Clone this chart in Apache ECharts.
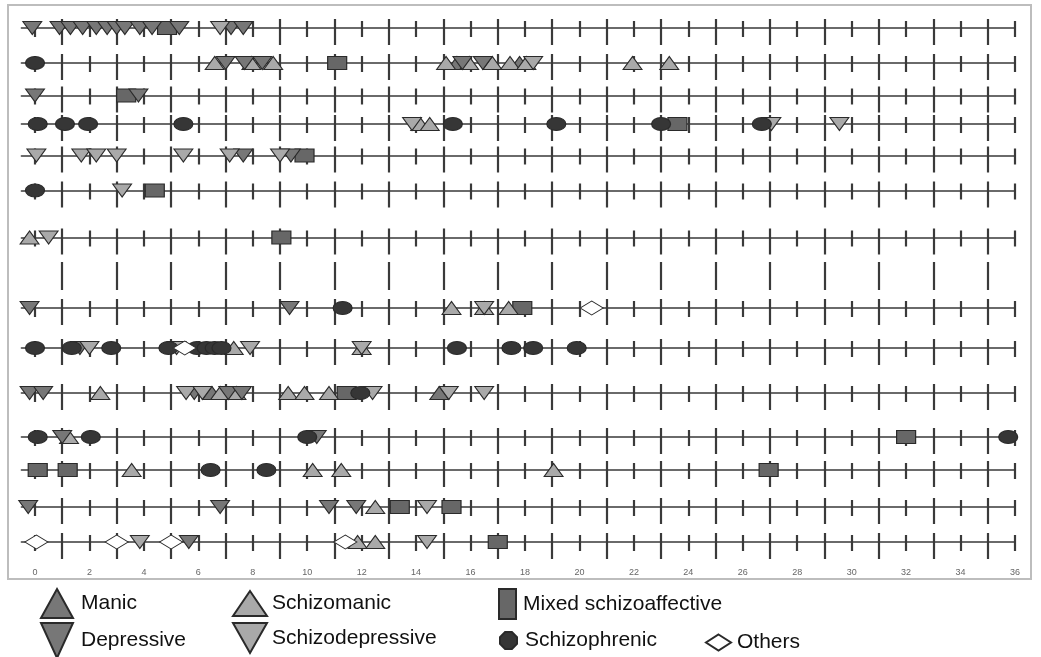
<!DOCTYPE html>
<html><head><meta charset="utf-8">
<script src="https://cdn.jsdelivr.net/npm/echarts@6/dist/echarts.min.js"></script>
<style>html,body{margin:0;padding:0;background:#fff}#c{width:1041px;height:657px}</style>
</head><body><div id="c"></div>
<script>
// ---------------- data ----------------
const categories = ['Manic','Schizomanic','Mixed schizoaffective','Depressive','Schizodepressive','Schizophrenic','Others'];
const xLabels = [0,2,4,6,8,10,12,14,16,18,20,22,24,26,28,30,32,34,36];
const majorTicks = [1,3,5,7,9,11,13,15,17,19,21,23,25,27,29,31,33,35];
const minorTicks = [0,2,4,6,8,10,12,14,16,18,20,22,24,26,28,30,32,34,36];
const patients = [1,2,3,4,5,6,7,8,9,10,11,12,13,14];
// episodes: [time, patient row index]
const manic = [[15.5,1],[17.8,1],[6.5,9],[14.85,9]];
const schizomanic = [[6.6,1],[7.95,1],[8.75,1],[15.1,1],[15.95,1],[16.8,1],[17.45,1],[18.05,1],[21.95,1],[23.3,1],
  [14.15,3],[14.5,3],[-0.2,6],[15.3,7],[16.5,7],[17.4,7],[7.3,8],[12.0,8],
  [2.4,9],[6.8,9],[7.4,9],[9.3,9],[9.9,9],[10.8,9],[1.25,10],
  [3.55,11],[10.2,11],[11.25,11],[19.05,11],[12.5,12],[11.85,13],[12.5,13]];
const mixed = [[4.85,0],[11.1,1],[3.35,2],[23.6,3],[9.9,4],[4.4,5],[9.05,6],[17.9,7],[11.45,9],[32.0,10],
  [0.1,11],[1.2,11],[26.95,11],[13.4,12],[15.3,12],[17.0,13]];
const depressive = [[-0.1,0],[0.9,0],[1.3,0],[1.75,0],[2.25,0],[2.65,0],[3.0,0],[3.3,0],[3.85,0],[4.3,0],[5.3,0],[7.2,0],[7.65,0],
  [7.0,1],[7.7,1],[8.35,1],[15.7,1],[16.45,1],[0,2],[3.8,2],[7.65,4],[9.4,4],[-0.2,7],[9.35,7],[1.65,8],
  [-0.2,9],[0.3,9],[5.85,9],[7.1,9],[7.6,9],[1.0,10],[10.35,10],[-0.25,12],[6.8,12],[10.8,12],[11.8,12],[5.65,13]];
const schizodepressive = [[6.8,0],[18.3,1],[13.85,3],[27.05,3],[29.55,3],
  [0.05,4],[1.7,4],[2.25,4],[3.0,4],[5.45,4],[7.15,4],[9.0,4],[3.2,5],[0.5,6],[16.5,7],
  [2.0,8],[5.2,8],[7.9,8],[12.0,8],[5.55,9],[6.15,9],[12.4,9],[15.2,9],[16.5,9],[14.4,12],[3.85,13],[14.4,13]];
const schizophrenic = [[0,1],[0.1,3],[1.1,3],[1.95,3],[5.45,3],[15.35,3],[19.15,3],[23.0,3],[26.7,3],
  [0,5],[11.3,7],[0,8],[1.35,8],[2.8,8],[4.9,8],[5.95,8],[6.3,8],[6.6,8],[6.85,8],[15.5,8],[17.5,8],[18.3,8],[19.9,8],
  [11.95,9],[0.1,10],[2.05,10],[10.0,10],[35.75,10],[6.45,11],[8.5,11]];
const others = [[20.45,7],[5.5,8],[0.05,13],[3.0,13],[5.0,13],[11.4,13]];

// ---------------- layout / styles ----------------
const episodeSets = [manic, schizomanic, mixed, depressive, schizodepressive, schizophrenic, others];
const slotY = [28, 63, 95.5, 124, 155.5, 190.5, 237.5, 276, 308, 348, 393, 437, 470, 507, 542];
const GAP_SLOT = 7;
const patientSlot = i => (i < 7 ? i : i + 1);
const X_MIN = -0.5, X_MAX = 36, GL = 21.4, GR = 26;
const LONG_UP = 9, LONG_DN = 17, SHORT_UP = 7, SHORT_DN = 9;
const lineCol = '#3a3a3a';
const octagon = 'path://M3,0L7,0L10,3L10,7L7,10L3,10L0,7L0,3Z';
const catStyle = {
  'Manic':                 {symbol:'triangle', rot:0,   size:[19,13], fill:'#777777', z:3},
  'Schizomanic':           {symbol:'triangle', rot:0,   size:[19,13], fill:'#a9a9a9', z:3},
  'Mixed schizoaffective': {symbol:'rect',     rot:0,   size:[19,13], fill:'#676767', z:2},
  'Depressive':            {symbol:'triangle', rot:180, size:[19,13], fill:'#777777', z:3},
  'Schizodepressive':      {symbol:'triangle', rot:180, size:[19,13], fill:'#a9a9a9', z:3},
  'Schizophrenic':         {symbol:'circle',   rot:0,   size:[19,13], fill:'#363636', z:4},
  'Others':                {symbol:'diamond',  rot:0,   size:[23,14], fill:'#ffffff', z:5}
};

const grids = [], xAxes = [], yAxes = [];
const longAxisOfSlot = {};
slotY.forEach((y, s) => {
  const isGap = s === GAP_SLOT, isLast = s === slotY.length - 1;
  let gi = grids.length;
  const up = isGap ? 14 : LONG_UP, dn = isGap ? 14 : LONG_DN;
  grids.push({left: GL, right: GR, top: y - up, height: up + dn});
  xAxes.push({
    gridIndex: gi, type: 'value', min: X_MIN, max: X_MAX,
    axisLine: {show: !isGap, onZero: true, lineStyle: {color: lineCol, width: 1.6}},
    axisTick: {show: false, customValues: majorTicks},
    splitLine: {show: true, lineStyle: {color: lineCol, width: 2.2}},
    axisLabel: isLast ? {show: true, customValues: xLabels, margin: 9, fontSize: 9,
      color: '#666', fontFamily: 'Liberation Sans, Arial, sans-serif'} : {show: false}
  });
  yAxes.push({gridIndex: gi, type: 'value', min: -dn, max: up, show: false});
  longAxisOfSlot[s] = gi;
  if (!isGap) {
    gi = grids.length;
    grids.push({left: GL, right: GR, top: y - SHORT_UP, height: SHORT_UP + SHORT_DN});
    xAxes.push({
      gridIndex: gi, type: 'value', min: X_MIN, max: X_MAX,
      axisLine: {show: false}, axisTick: {show: false, customValues: minorTicks},
      splitLine: {show: true, lineStyle: {color: lineCol, width: 2.2}},
      axisLabel: {show: false}
    });
    yAxes.push({gridIndex: gi, type: 'value', min: -SHORT_DN, max: SHORT_UP, show: false});
  }
});

const series = [];
categories.forEach((cat, ci) => {
  const st = catStyle[cat];
  patients.forEach((p, pi) => {
    const pts = episodeSets[ci].filter(d => d[1] === pi).map(d => [d[0], 0]);
    if (!pts.length) return;
    const ax = longAxisOfSlot[patientSlot(pi)];
    series.push({
      type: 'scatter', name: cat, xAxisIndex: ax, yAxisIndex: ax, data: pts,
      symbol: st.symbol, symbolRotate: st.rot, symbolSize: st.size, clip: false, z: st.z,
      itemStyle: {color: st.fill, borderColor: '#2a2a2a', borderWidth: 1, opacity: 1},
      emphasis: {disabled: true}
    });
  });
});

const legendItems = [
  {name:'Manic', icon:'triangle', left:40, top:588, w:32, h:29, pad:3},
  {name:'Schizomanic', icon:'triangle', left:232, top:590, w:34, h:25, pad:0},
  {name:'Mixed schizoaffective', icon:'rect', left:498, top:588, w:17, h:30, pad:2},
  {name:'Depressive', icon:'path://M0,0L32,0L16,35Z', left:40, top:622, w:32, h:35, pad:3},
  {name:'Schizodepressive', icon:'path://M0,0L34,0L17,30Z', left:232, top:622, w:34, h:30, pad:0},
  {name:'Schizophrenic', icon:octagon, left:499, top:630, w:17, h:20, pad:3},
  {name:'Others', icon:'diamond', left:705, top:632, w:25, h:16, pad:1}
];
const legends = legendItems.map(it => ({
  data: [{name: it.name, icon: it.icon}], left: it.left, top: it.top, padding: 0,
  itemWidth: it.w, itemHeight: it.h, selectedMode: false, orient: 'horizontal',
  textStyle: {fontSize: 21, color: '#111', fontFamily: 'Liberation Sans, Arial, sans-serif', padding: [0,0,0,it.pad]}
}));

const chart = echarts.init(document.getElementById('c'), null, {renderer: 'canvas'});
chart.setOption({
  animation: false,
  backgroundColor: '#fff',
  graphic: [{type: 'rect', shape: {x: 8, y: 5, width: 1023, height: 574},
    style: {fill: 'none', stroke: '#bdbdbd', lineWidth: 2}, silent: true, z: -1}],
  grid: grids, xAxis: xAxes, yAxis: yAxes, series: series, legend: legends
});
</script></body></html>
